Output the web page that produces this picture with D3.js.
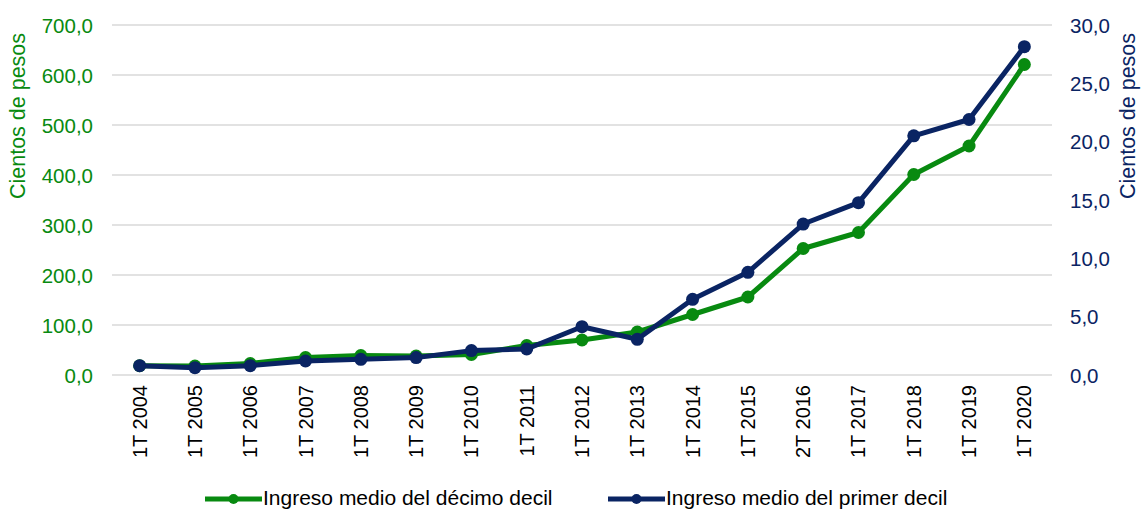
<!DOCTYPE html>
<html>
<head>
<meta charset="utf-8">
<script src="https://cdn.jsdelivr.net/npm/d3@7"></script>
<style>
  body { margin: 0; background: #fff; }
  text { font-family: "Liberation Sans", Arial, sans-serif; }
</style>
</head>
<body>
<script>
var periodos = ['1T 2004', '1T 2005', '1T 2006', '1T 2007', '1T 2008', '1T 2009', '1T 2010', '1T 2011', '1T 2012',
  '1T 2013', '1T 2014', '1T 2015', '2T 2016', '1T 2017', '1T 2018', '1T 2019', '1T 2020'];
var decimoDecil = [18.5, 18, 23, 35, 39, 38, 41, 59, 70, 86, 121, 156, 253, 285, 401, 458, 621];   // eje izquierdo
var primerDecil = [0.8, 0.63, 0.8, 1.2, 1.34, 1.49, 2.09, 2.23, 4.14, 3.06, 6.49, 8.8, 12.94, 14.77, 20.5, 21.9, 28.14]; // eje derecho
var ticksIzq = [0, 100, 200, 300, 400, 500, 600, 700];
var ticksDer = [0, 5, 10, 15, 20, 25, 30];
var nombres = ['Ingreso medio del décimo decil', 'Ingreso medio del primer decil'];

var verde = '#088a10', azul = '#0a2463';
var W = 1142, H = 512;
var mLeft = 112, mRight = 1052, mTop = 25, mBottom = 375;

var svg = d3.select('body').append('svg')
  .attr('width', W)
  .attr('height', H);

var x = d3.scaleBand().domain(periodos).range([mLeft, mRight]);
var yL = d3.scaleLinear().domain([0, 700]).range([mBottom, mTop]);
var yR = d3.scaleLinear().domain([0, 30]).range([mBottom, mTop]);
var fmt = function(d){ return d3.format('.1f')(d).replace('.', ','); };

// grid
svg.selectAll('.grid')
  .data(ticksIzq)
  .enter().append('line')
    .attr('x1', mLeft).attr('x2', mRight)
    .attr('y1', function(d){ return yL(d); })
    .attr('y2', function(d){ return yL(d); })
    .attr('stroke', '#d9d9d9')
    .attr('stroke-width', 1.5);

// left axis
var axL = svg.append('g')
  .attr('transform', 'translate(' + (mLeft - 19) + ',0)')
  .call(d3.axisLeft(yL).tickValues(ticksIzq).tickSize(0).tickFormat(fmt));
axL.select('.domain').remove();
axL.selectAll('text').attr('fill', verde).style('font-size', '20.5px').attr('x', 0).attr('dy', '0.35em');

// right axis
var axR = svg.append('g')
  .attr('transform', 'translate(' + (mRight + 18) + ',0)')
  .call(d3.axisRight(yR).tickValues(ticksDer).tickSize(0).tickFormat(fmt));
axR.select('.domain').remove();
axR.selectAll('text').attr('fill', azul).style('font-size', '20.5px').attr('x', 0).attr('dy', '0.35em');

// x axis
var axX = svg.append('g')
  .attr('transform', 'translate(0,' + mBottom + ')')
  .call(d3.axisBottom(x).tickSize(0));
axX.select('.domain').remove();
axX.selectAll('text')
  .attr('fill', '#000')
  .style('font-size', '20px')
  .attr('transform', 'rotate(-90)')
  .attr('text-anchor', 'end')
  .attr('x', -10)
  .attr('y', 0)
  .attr('dy', '0.35em');

// axis titles
svg.append('text')
  .attr('transform', 'translate(25,116) rotate(-90)')
  .attr('text-anchor', 'middle')
  .attr('fill', verde)
  .style('font-size', '21.5px')
  .text('Cientos de pesos');
svg.append('text')
  .attr('transform', 'translate(1135,116) rotate(-90)')
  .attr('text-anchor', 'middle')
  .attr('fill', azul)
  .style('font-size', '21.5px')
  .text('Cientos de pesos');

var cx = function(d, i){ return x(periodos[i]) + x.bandwidth() / 2; };

function serie(valores, escala, color) {
  var linea = d3.line()
    .x(function(d, i){ return cx(d, i); })
    .y(function(d){ return escala(d); });
  svg.append('path')
    .datum(valores)
    .attr('d', linea)
    .attr('fill', 'none')
    .attr('stroke', color)
    .attr('stroke-width', 5)
    .attr('stroke-linejoin', 'round');
  svg.append('g').selectAll('circle')
    .data(valores)
    .enter().append('circle')
      .attr('cx', cx)
      .attr('cy', function(d){ return escala(d); })
      .attr('r', 6.5)
      .attr('fill', color);
}
serie(decimoDecil, yL, verde);
serie(primerDecil, yR, azul);

// legend
var leyenda = [{x: 205, c: verde, t: nombres[0]}, {x: 608, c: azul, t: nombres[1]}];
var lg = svg.selectAll('.lg')
  .data(leyenda)
  .enter().append('g')
    .attr('transform', function(d){ return 'translate(' + d.x + ',499)'; });
lg.append('line')
  .attr('x1', 0).attr('x2', 57)
  .attr('stroke', function(d){ return d.c; })
  .attr('stroke-width', 5);
lg.append('circle')
  .attr('cx', 28.5).attr('r', 5)
  .attr('fill', function(d){ return d.c; });
lg.append('text')
  .attr('x', 58)
  .attr('dy', '0.3em')
  .style('font-size', '21px')
  .attr('fill', '#000')
  .text(function(d){ return d.t; });
</script>
</body>
</html>
